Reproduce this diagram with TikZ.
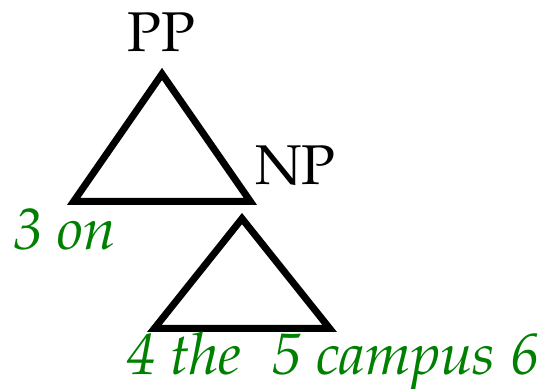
\documentclass[tikz,border=0pt]{standalone}
\usepackage[T1]{fontenc}
\usepackage{mathpazo}
\usepackage{xcolor}
\usepackage{tikz}
\definecolor{wordgreen}{RGB}{0,128,0}

\begin{document}
\begin{tikzpicture}[
    x=0.5pt, y=-0.5pt,
    font=\fontsize{28}{32}\selectfont,
    tri/.style={draw, line width=3.5pt, line join=miter},
    cat/.style={inner sep=0pt, anchor=base},
    word/.style={inner sep=0pt, anchor=base west, text=wordgreen, font=\fontsize{29.2}{33}\selectfont\itshape}
]
\useasboundingbox (0,0) rectangle (540,389);
% upper triangle
\coordinate (pptop) at (162,74);
\coordinate (ppleft) at (73.6,201.5);
\coordinate (ppright) at (250.4,201.5);
\draw[tri] (pptop) -- (ppleft) -- (ppright) -- cycle;
% lower triangle
\coordinate (nptop) at (242,218.6);
\coordinate (npleft) at (154.3,328.5);
\coordinate (npright) at (329.7,328.5);
\draw[tri] (nptop) -- (npleft) -- (npright) -- cycle;
\node[cat] (pp) at (161,52) {PP};
\node[cat, anchor=base west] (np) at (255,185) {NP};
\node[word] (w3) at (13,250) {3 on};
\node[word] (w4) at (126,374) {4 the};
\node[word] (w5) at (272,374) {5 campus 6};
\end{tikzpicture}
\end{document}
